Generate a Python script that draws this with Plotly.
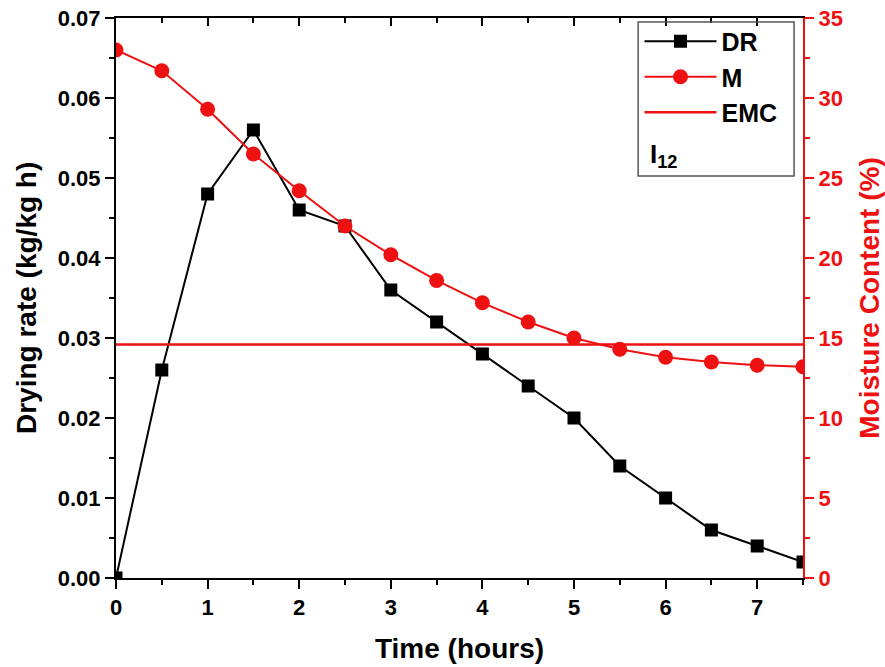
import plotly.graph_objects as go

time_h = [0, 0.5, 1, 1.5, 2, 2.5, 3, 3.5, 4, 4.5, 5, 5.5, 6, 6.5, 7, 7.5]
drying_rate = [0.0, 0.026, 0.048, 0.056, 0.046, 0.044, 0.036, 0.032, 0.028, 0.024,
               0.020, 0.014, 0.010, 0.006, 0.004, 0.002]
moisture = [33.0, 31.7, 29.3, 26.5, 24.2, 22.0, 20.2, 18.6, 17.2, 16.0,
            15.0, 14.3, 13.8, 13.5, 13.3, 13.2]
emc_value = 14.6
emc_x = [0, 7.5]

RED = "#ee1111"
FONT = "Liberation Sans, Arial, sans-serif"

fig = go.Figure()
fig.add_trace(go.Scatter(x=time_h, y=drying_rate, name="DR", mode="lines+markers",
                         line=dict(color="black", width=2),
                         marker=dict(symbol="square", size=13, color="black"),
                         xaxis="x", yaxis="y"))
fig.add_trace(go.Scatter(x=time_h, y=moisture, name="M", mode="lines+markers",
                         line=dict(color=RED, width=2),
                         marker=dict(symbol="circle", size=15, color=RED),
                         xaxis="x", yaxis="y2"))
fig.add_trace(go.Scatter(x=emc_x, y=[emc_value] * len(emc_x), name="EMC", mode="lines",
                         line=dict(color=RED, width=2.5),
                         xaxis="x", yaxis="y2"))
# invisible trace to activate top mirror axis
fig.add_trace(go.Scatter(x=[0], y=[0], xaxis="x2", yaxis="y", showlegend=False,
                         mode="markers", marker=dict(size=1, opacity=0), hoverinfo="skip"))

tickfont = dict(family=FONT, size=22, color="black", weight="bold")
titlefont = dict(family=FONT, size=28, color="black", weight="bold")

fig.update_layout(
    width=885, height=667,
    margin=dict(l=116, r=82, t=18, b=89, autoexpand=False),
    plot_bgcolor="white", paper_bgcolor="white",
    showlegend=True,
    xaxis=dict(range=[0, 7.5], dtick=1, tick0=0, showline=True, linecolor="black",
               linewidth=2, ticks="outside", ticklen=9, tickwidth=2, tickcolor="black",
               minor=dict(dtick=0.5, ticks="outside", ticklen=5, tickwidth=2, tickcolor="black"),
               showgrid=False, zeroline=False, tickfont=tickfont, automargin=False,
               title=dict(text="Time (hours)", font=titlefont, standoff=19)),
    xaxis2=dict(range=[0, 7.5], overlaying="x", side="top", dtick=1, tick0=0,
                showline=True, linecolor="black", linewidth=2, ticks="inside", ticklen=8,
                tickwidth=2, tickcolor="black", showticklabels=False, showgrid=False,
                zeroline=False, automargin=False,
                minor=dict(dtick=0.5, ticks="inside", ticklen=5, tickwidth=2, tickcolor="black")),
    yaxis=dict(range=[0, 0.07], dtick=0.01, tick0=0, tickformat=".2f", showline=True,
               linecolor="black", linewidth=2, ticks="outside", ticklen=9, tickwidth=2,
               tickcolor="black", automargin=False,
               minor=dict(dtick=0.005, ticks="outside", ticklen=5, tickwidth=2, tickcolor="black"),
               showgrid=False, zeroline=False, tickfont=tickfont),
    yaxis2=dict(range=[0, 35], dtick=5, tick0=0, overlaying="y", side="right",
                showline=True, linecolor=RED, linewidth=2, ticks="outside", ticklen=9,
                tickwidth=2, tickcolor=RED, automargin=False,
                minor=dict(dtick=2.5, ticks="outside", ticklen=5, tickwidth=2, tickcolor=RED),
                showgrid=False, zeroline=False,
                tickfont=dict(family=FONT, size=22, color=RED, weight="bold"),
                title=dict(text="Moisture Content (%)",
                           font=dict(family=FONT, size=28, color=RED, weight="bold"),
                           standoff=18)),
    legend=dict(x=0.762, y=0.999, xanchor="left", yanchor="top",
                bgcolor="rgba(0,0,0,0)", borderwidth=0,
                font=dict(family=FONT, size=25, color="black", weight="bold"),
                itemwidth=72, tracegroupgap=0),
)

# left axis title
fig.add_annotation(xref="paper", yref="paper", x=-0.131, y=0.5, xanchor="center", yanchor="middle",
                   text="Drying rate (kg/kg h)", textangle=-90, showarrow=False, font=titlefont)

# legend frame and I12 label
fig.add_shape(type="rect", xref="paper", yref="paper", x0=0.760, x1=0.987, y0=0.718, y1=0.993,
              line=dict(color="#555555", width=1.5), fillcolor="rgba(0,0,0,0)", layer="above")
fig.add_annotation(xref="paper", yref="paper", x=0.774, y=0.755, xanchor="left", yanchor="middle",
                   text="I<sub>12</sub>", showarrow=False,
                   font=dict(family=FONT, size=26, color="black", weight="bold"))

fig.write_html("out.html")
